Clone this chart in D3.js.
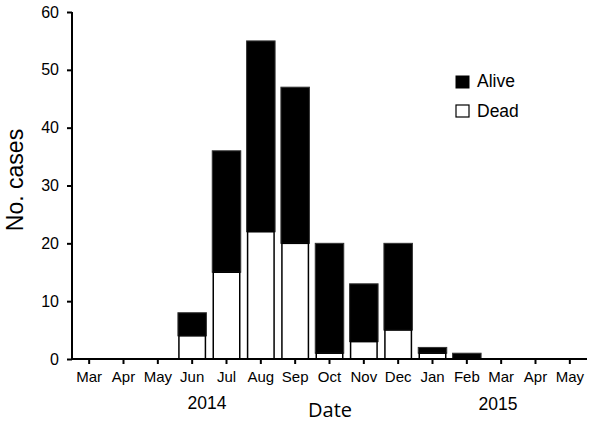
<!DOCTYPE html>
<meta charset="utf-8">
<style>
body { margin: 0; background: #fff; }
text { font-family: "Liberation Sans", Arial, sans-serif; fill: #000; }
.axis path, .axis line { stroke: #000; stroke-width: 2px; }
.title { font-family: "Open Sans", "Liberation Sans", sans-serif; }
</style>
<svg width="600" height="433"></svg>
<script src="https://cdnjs.cloudflare.com/ajax/libs/d3/7.8.5/d3.min.js"></script>
<script>

var months = ["Mar", "Apr", "May", "Jun", "Jul", "Aug", "Sep", "Oct", "Nov", "Dec", "Jan", "Feb", "Mar", "Apr", "May"];
var dead  = [0, 0, 0, 4, 15, 22, 20, 1, 3, 5, 1, 0, 0, 0, 0];
var alive = [0, 0, 0, 4, 21, 33, 27, 19, 10, 15, 1, 1, 0, 0, 0];
var yTicks = [0, 10, 20, 30, 40, 50, 60];

var svg = d3.select("svg");

var x = d3.scaleBand()
    .domain(d3.range(months.length))
    .range([72, 587])
    .paddingInner(0.17)
    .paddingOuter(0.085);

var y = d3.scaleLinear()
    .domain([0, 60])
    .range([359, 12]);

var data = months.map(function(m, i) {
  return { i: i, dead: dead[i], alive: alive[i] };
});

// alive stacked on top of dead
var bars = svg.append("g");
bars.selectAll("rect.alive")
    .data(data.filter(function(d) { return d.alive > 0; }))
    .enter().append("rect")
      .attr("class", "alive")
      .attr("x", function(d) { return x(d.i); })
      .attr("width", x.bandwidth())
      .attr("y", function(d) { return y(d.dead + d.alive); })
      .attr("height", function(d) { return y(d.dead) - y(d.dead + d.alive); })
      .attr("fill", "#000")
      .attr("stroke", "#333")
      .attr("stroke-width", 1);

bars.selectAll("rect.dead")
    .data(data.filter(function(d) { return d.dead > 0; }))
    .enter().append("rect")
      .attr("class", "dead")
      .attr("x", function(d) { return x(d.i) + 1; })
      .attr("width", x.bandwidth() - 2)
      .attr("y", function(d) { return y(d.dead); })
      .attr("height", function(d) { return y(0) - y(d.dead); })
      .attr("fill", "#fff")
      .attr("stroke", "#000")
      .attr("stroke-width", 1.5);

// axes
var yAxis = svg.append("g")
    .attr("class", "axis")
    .attr("transform", "translate(72,0)")
    .call(d3.axisLeft(y).tickValues(yTicks).tickSize(5).tickSizeOuter(0).tickPadding(8));
yAxis.selectAll("text").style("font-size", "16px");

var xAxis = svg.append("g")
    .attr("class", "axis")
    .attr("transform", "translate(0,359)")
    .call(d3.axisBottom(x).tickFormat(function(i) { return months[i]; }).tickSize(5).tickSizeOuter(0).tickPadding(7));
xAxis.selectAll("text").style("font-size", "15px");
xAxis.select(".domain").attr("d", "M72,0H587");
yAxis.select(".domain").attr("d", "M0,12V359");

// year labels
svg.append("text").attr("x", 207).attr("y", 409).attr("text-anchor", "middle")
    .style("font-size", "17.5px").text("2014");
svg.append("text").attr("x", 498).attr("y", 410).attr("text-anchor", "middle")
    .style("font-size", "17.5px").text("2015");

// axis titles
svg.append("text").attr("class", "title").attr("x", 330).attr("y", 417).attr("text-anchor", "middle")
    .style("font-size", "20px").text("Date");
svg.append("text")
    .attr("transform", "translate(23,180) rotate(-90)")
    .attr("text-anchor", "middle")
    .style("font-size", "23px").text("No. cases");

// legend
var legend = svg.append("g").attr("transform", "translate(456,76)");
legend.append("rect").attr("width", 13).attr("height", 12).attr("fill", "#000").attr("stroke", "#000");
legend.append("text").attr("x", 21).attr("y", 11).style("font-size", "17.5px").text("Alive");
legend.append("rect").attr("y", 29).attr("width", 13).attr("height", 12).attr("fill", "#fff").attr("stroke", "#000").attr("stroke-width", 1.2);
legend.append("text").attr("x", 21).attr("y", 41).style("font-size", "17.5px").text("Dead");

</script>
